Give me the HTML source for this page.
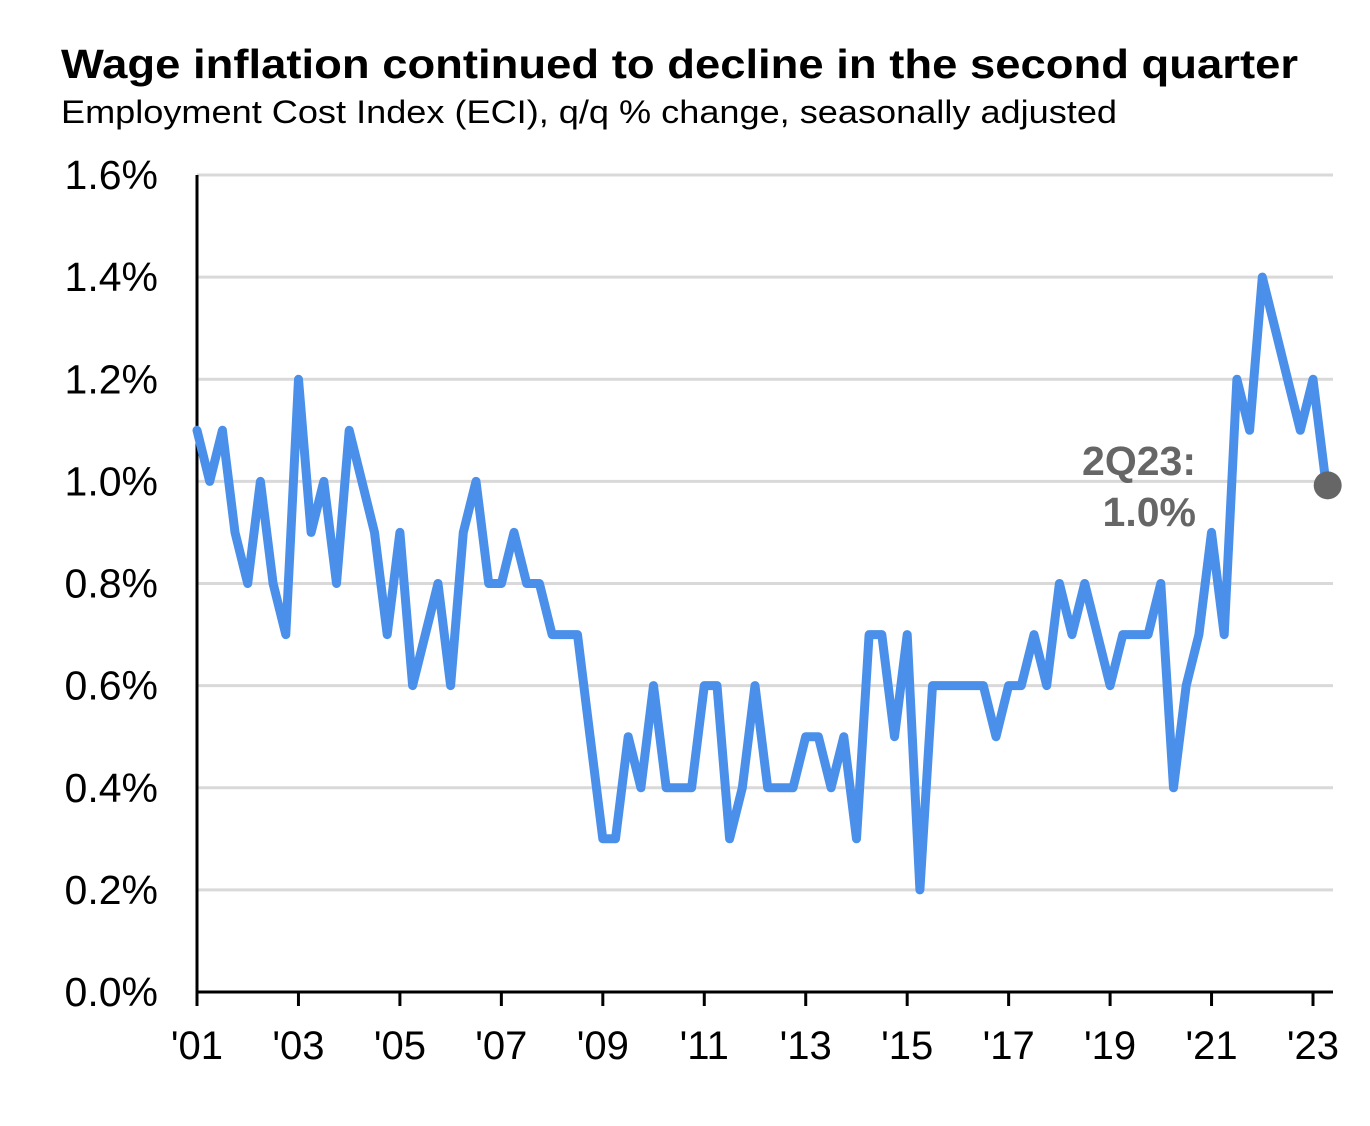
<!DOCTYPE html>
<html><head><meta charset="utf-8"><style>
html,body{margin:0;padding:0;background:#fff;}
svg{display:block;font-family:"Liberation Sans",Arial,sans-serif;}
</style></head><body>
<svg id="chart" width="1370" height="1126" viewBox="0 0 1370 1126">
<text x="61" y="78" font-size="41" font-weight="bold" fill="#000" textLength="1237" lengthAdjust="spacingAndGlyphs">Wage inflation continued to decline in the second quarter</text>
<text x="61" y="123" font-size="32" fill="#000" textLength="1056" lengthAdjust="spacingAndGlyphs">Employment Cost Index (ECI), q/q % change, seasonally adjusted</text>
<g id="grid"></g><g id="yticks"></g><g id="xticks"></g><g id="series"></g>
<text x="1196" y="475" font-size="41" font-weight="bold" fill="#666" text-anchor="end">2Q23:</text>
<text x="1196" y="526" font-size="41" font-weight="bold" fill="#666" text-anchor="end">1.0%</text>
</svg>
<script>
const yTicks=[0,0.2,0.4,0.6,0.8,1.0,1.2,1.4,1.6];
const yTickLabels=["0.0%","0.2%","0.4%","0.6%","0.8%","1.0%","1.2%","1.4%","1.6%"];
const xTickYears=[2001,2003,2005,2007,2009,2011,2013,2015,2017,2019,2021,2023];
const xTickLabels=["'01","'03","'05","'07","'09","'11","'13","'15","'17","'19","'21","'23"];
const startYear=2001;
const eciValues=[1.1,1.0,1.1,0.9,0.8,1.0,0.8,0.7,1.2,0.9,1.0,0.8,1.1,1.0,0.9,0.7,0.9,0.6,0.7,0.8,0.6,0.9,1.0,0.8,0.8,0.9,0.8,0.8,0.7,0.7,0.7,0.5,0.3,0.3,0.5,0.4,0.6,0.4,0.4,0.4,0.6,0.6,0.3,0.4,0.6,0.4,0.4,0.4,0.5,0.5,0.4,0.5,0.3,0.7,0.7,0.5,0.7,0.2,0.6,0.6,0.6,0.6,0.6,0.5,0.6,0.6,0.7,0.6,0.8,0.7,0.8,0.7,0.6,0.7,0.7,0.7,0.8,0.4,0.6,0.7,0.9,0.7,1.2,1.1,1.4,1.3,1.2,1.1,1.2,1.0];
const NS="http://www.w3.org/2000/svg";
const X0=197,QW=(1313-197)/88,Y0=992,YH=(992-175)/1.6;
function xq(i){return X0+i*QW;}
function xy(year){return xq((year-startYear)*4);}
function y(v){return Y0-v*YH;}
function mk(tag,attrs,parent){const e=document.createElementNS(NS,tag);for(const k in attrs)e.setAttribute(k,attrs[k]);parent.appendChild(e);return e;}
const grid=document.getElementById('grid'),yt=document.getElementById('yticks'),xt=document.getElementById('xticks'),ser=document.getElementById('series');
yTicks.forEach((v,i)=>{
 if(v>0){const g=mk('line',{x1:X0,x2:1333,y1:y(v),y2:y(v),stroke:'#d9d9d9','stroke-width':3},grid);
 
 }
 const t=mk('text',{x:158,y:y(v)+14,'font-size':41,'text-anchor':'end',fill:'#000'},yt);
 t.textContent=yTickLabels[i];
 
 
});
const ya=mk('line',{x1:X0,x2:X0,y1:175,y2:Y0+2,stroke:'#000','stroke-width':3},xt);


const xa=mk('line',{x1:X0-1.5,x2:1333,y1:Y0,y2:Y0,stroke:'#000','stroke-width':3},xt);


xTickYears.forEach((yr,i)=>{
 const tk=mk('line',{x1:xy(yr),x2:xy(yr),y1:Y0,y2:Y0+14,stroke:'#000','stroke-width':3},xt);
 
 
 const t=mk('text',{x:xy(yr),y:1059,'font-size':40,'text-anchor':'middle',fill:'#000'},xt);
 t.textContent=xTickLabels[i];
 
 
});
const pts=eciValues.map((v,i)=>xq(i).toFixed(1)+','+y(v).toFixed(1)).join(' ');
const pl=mk('polyline',{points:pts,fill:'none',stroke:'#4a90ea','stroke-width':9,'stroke-linejoin':'round','stroke-linecap':'round'},ser);


const last=eciValues.length-1;
const dot=mk('circle',{cx:xq(last)+2,cy:y(eciValues[last])+4,r:14,fill:'#666'},ser);


</script>
</body></html>
